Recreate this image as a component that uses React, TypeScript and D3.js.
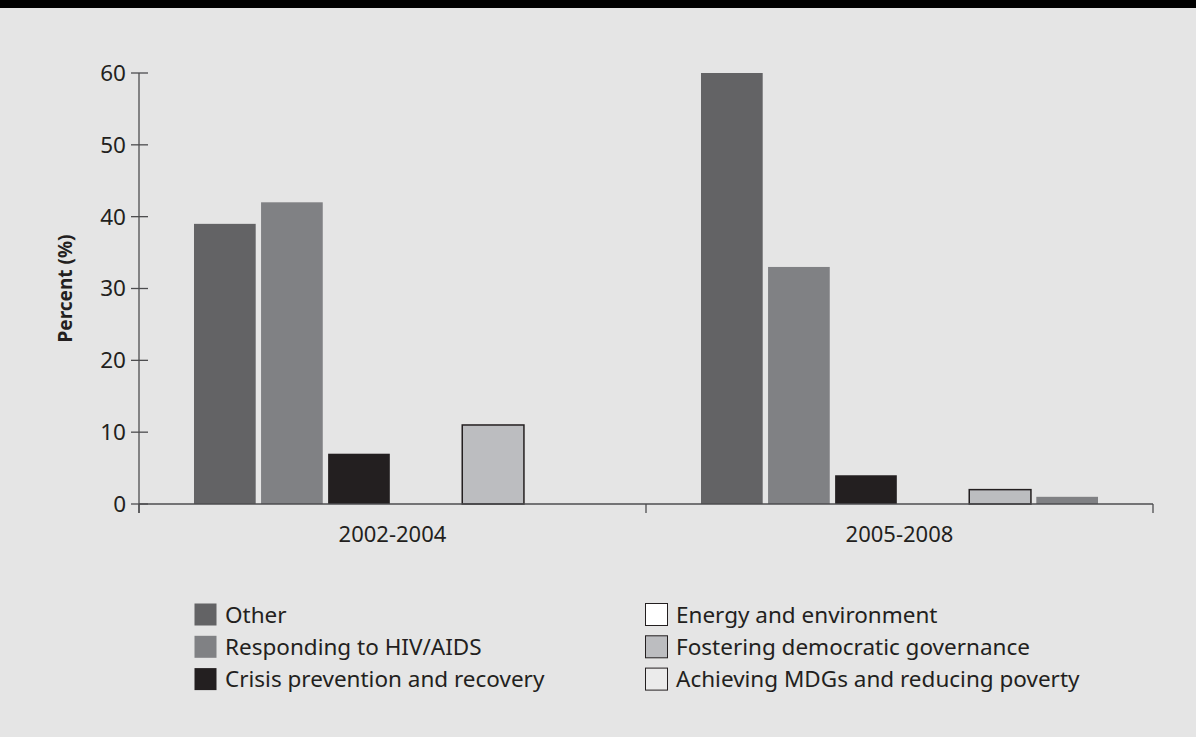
import React from 'react';
import * as d3 from 'd3';

const periods = ['2002-2004', '2005-2008'];
const seriesNames = [
  'Other',
  'Responding to HIV/AIDS',
  'Crisis prevention and recovery',
  'Energy and environment',
  'Fostering democratic governance',
  'Achieving MDGs and reducing poverty',
];
// values per series, one per period
const other = [39, 60];
const hivAids = [42, 33];
const crisis = [7, 4];
const energy = [0, 0];
const democratic = [11, 2];
const mdgs = [0, 1];
const yTicks = [0, 10, 20, 30, 40, 50, 60];

const seriesValues = [other, hivAids, crisis, energy, democratic, mdgs];
const barFill = ['#636365', '#808184', '#231f20', '#ffffff', '#bcbdc0', '#808184'];
const barStroke = ['none', 'none', 'none', '#231f20', '#231f20', 'none'];
const swatchFill = ['#636365', '#808184', '#231f20', '#ffffff', '#bcbdc0', '#ebebeb'];
const swatchStroke = ['none', 'none', 'none', '#231f20', '#231f20', '#231f20'];

const W = 1196;
const H = 737;
const TEXT = '#231f20';
const FONT = '"Noto Sans", "Open Sans", sans-serif';

export default function App() {
  const x0 = d3.scaleBand<string>().domain(periods).range([139, 1153]).padding(0);
  const x1 = d3.scaleBand<number>()
    .domain(d3.range(seriesNames.length))
    .range([0, x0.bandwidth()])
    .paddingInner(0.08)
    .paddingOuter(0.82);
  const y = d3.scaleLinear().domain([0, 60]).range([504, 73]);

  const legendCols = [
    { x: 194, items: [0, 1, 2] },
    { x: 645, items: [3, 4, 5] },
  ];

  return (
    <svg
      width={W}
      height={H}
      style={{ position: 'absolute', left: 0, top: 0, fontFamily: FONT }}
    >
      <rect x={0} y={0} width={W} height={H} fill="#e5e5e5" />
      <rect x={0} y={0} width={W} height={8} fill="#000" />

      {/* bars */}
      {periods.map((p, gi) => (
        <g key={p} transform={`translate(${x0(p)},0)`}>
          {seriesValues.map((vals, si) =>
            vals[gi] > 0 ? (
              <rect
                key={si}
                x={x1(si)}
                y={y(vals[gi])}
                width={x1.bandwidth()}
                height={y(0) - y(vals[gi])}
                fill={barFill[si]}
                stroke={barStroke[si]}
                strokeWidth={1.5}
              />
            ) : null
          )}
        </g>
      ))}

      {/* y axis */}
      <line x1={139} x2={139} y1={y(60)} y2={513} stroke="#4d4d4f" strokeWidth={1.3} />
      {yTicks.map(t => (
        <g key={t}>
          <line x1={131} x2={148} y1={y(t)} y2={y(t)} stroke="#4d4d4f" strokeWidth={1.3} />
          <text
            x={126}
            y={y(t)}
            dy="0.35em"
            textAnchor="end"
            fontSize={22.5}
            fill={TEXT}
          >
            {t}
          </text>
        </g>
      ))}
      <text
        transform={`translate(72,${(y(0) + y(60)) / 2}) rotate(-90)`}
        textAnchor="middle"
        fontSize={19}
        fontWeight="bold"
        fill={TEXT}
      >
        Percent (%)
      </text>

      {/* x axis */}
      <line x1={139} x2={1153} y1={y(0)} y2={y(0)} stroke="#4d4d4f" strokeWidth={1.3} />
      {[...periods.map(p => x0(p) as number), 1153].map((xx, i) => (
        <line key={i} x1={xx} x2={xx} y1={y(0)} y2={513} stroke="#4d4d4f" strokeWidth={1.3} />
      ))}
      {periods.map(p => (
        <text
          key={p}
          x={(x0(p) as number) + x0.bandwidth() / 2}
          y={542}
          textAnchor="middle"
          fontSize={22}
          fill={TEXT}
        >
          {p}
        </text>
      ))}

      {/* legend */}
      {legendCols.map(col =>
        col.items.map((si, ri) => (
          <g key={si} transform={`translate(${col.x},${603 + ri * 32.3})`}>
            <rect
              x={0.5}
              y={0.5}
              width={22}
              height={22}
              fill={swatchFill[si]}
              stroke={swatchStroke[si]}
              strokeWidth={1}
            />
            <text x={31} y={11.5} dy="0.36em" fontSize={22.5} fill={TEXT}>
              {seriesNames[si]}
            </text>
          </g>
        ))
      )}
    </svg>
  );
}
